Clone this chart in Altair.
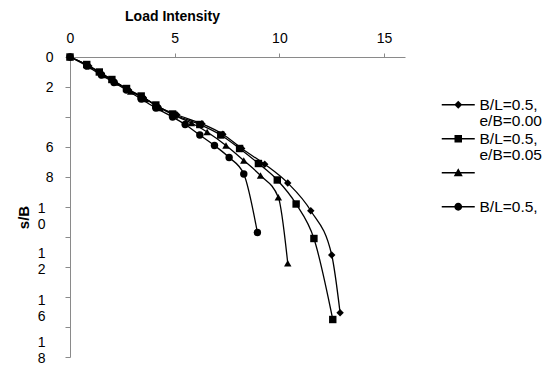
import altair as alt
import pandas as pd

# ---- data ----
series_names = ["B/L=0.5,|e/B=0.00", "B/L=0.5,|e/B=0.05", " | ", "B/L=0.5,| "]

s1_load = [0, 0.9, 1.5, 2.1, 2.8, 3.5, 4.2, 5.1, 6.3, 7.3, 8.2, 9.3, 10.4, 11.5, 12.5, 12.9]
s1_sb   = [0, 0.6, 1.1, 1.6, 2.2, 2.7, 3.3, 3.85, 4.45, 5.15, 6.1, 7.15, 8.4, 10.25, 13.2, 17.05]

s2_load = [0, 0.8, 1.4, 2.0, 2.7, 3.4, 4.1, 4.9, 6.2, 7.2, 8.1, 9.0, 9.9, 10.8, 11.65, 12.55]
s2_sb   = [0, 0.5, 1.0, 1.5, 2.1, 2.6, 3.2, 3.8, 4.5, 5.2, 6.1, 7.1, 8.2, 9.8, 12.1, 17.5]

s3_load = [0, 0.9, 1.6, 2.2, 2.9, 3.6, 4.3, 5.0, 5.8, 6.55, 7.45, 8.3, 9.1, 9.95, 10.4]
s3_sb   = [0, 0.6, 1.2, 1.7, 2.3, 2.8, 3.4, 3.9, 4.4, 5.0, 5.9, 6.9, 7.9, 9.35, 13.75]

s4_load = [0, 0.8, 1.5, 2.1, 2.7, 3.4, 4.1, 4.9, 5.5, 6.2, 6.9, 7.6, 8.3, 8.95]
s4_sb   = [0, 0.6, 1.2, 1.7, 2.2, 2.8, 3.4, 4.0, 4.5, 5.2, 5.9, 6.7, 7.8, 11.7]

x_ticks = [0, 5, 10, 15]
y_ticks = [0, 2, 4, 6, 8, 10, 12, 14, 16, 18, 20]
y_tick_labels = ["0", "2", "", "6", "8", "1|0", "", "1|2", "1|6", "", "1|8"]

rows = []
for name, xs, ys in zip(series_names,
                        [s1_load, s2_load, s3_load, s4_load],
                        [s1_sb, s2_sb, s3_sb, s4_sb]):
    for i, (xv, yv) in enumerate(zip(xs, ys)):
        rows.append({"series": name, "load": xv, "sb": yv, "order": i})
df = pd.DataFrame(rows)

FONT = "Liberation Sans"
AXIS_GRAY = "#8a8a8a"

y_label_expr = "split([" + ",".join("'" + s + "'" for s in y_tick_labels) + "][datum.value/2], '|')"

x_enc = alt.X("load:Q",
              scale=alt.Scale(domain=[0, 16], nice=False, zero=False),
              axis=alt.Axis(orient="top", values=x_ticks, grid=False,
                            tickSize=4, labelPadding=8, labelFlush=False,
                            labelOverlap=False,
                            domainColor=AXIS_GRAY, tickColor=AXIS_GRAY,
                            labelFont=FONT, labelFontSize=14, labelColor="black",
                            title="Load Intensity", titleFont=FONT,
                            titleFontSize=14, titleFontWeight="bold",
                            titleColor="black",
                            titleX=102, titleY=-41, titleAlign="center",
                            titleBaseline="middle"))

y_enc = alt.Y("sb:Q",
              scale=alt.Scale(domain=[0, 20], nice=False, zero=False, reverse=True),
              axis=alt.Axis(values=y_ticks, grid=False, tickSize=5,
                            labelExpr=y_label_expr, labelOverlap=False,
                            labelLineHeight=16,
                            labelOffset={"condition": [
                                {"test": "datum.value == 10", "value": 1},
                                {"test": "datum.value == 14", "value": -14},
                                {"test": "datum.value == 16", "value": 3},
                                {"test": "datum.value == 20", "value": -15}],
                                "value": 0},
                            labelPadding={"condition": {"test": "datum.value >= 10", "value": 20},
                                          "value": 12},
                            domainColor=AXIS_GRAY, tickColor=AXIS_GRAY,
                            labelFont=FONT, labelFontSize=14, labelColor="black",
                            title="s/B", titleFont=FONT, titleFontSize=15,
                            titleFontWeight="bold", titleColor="black",
                            titleX=-47, titleY=160, titleAlign="center",
                            titleBaseline="middle", titleAngle=270))

base = alt.Chart(df)

lines = base.mark_line(color="black", strokeWidth=1.3, interpolate="monotone").encode(
    x=x_enc, y=y_enc, detail="series:N", order="order:Q")

points = base.mark_point(filled=True, color="black", opacity=1, size=55).encode(
    x=x_enc, y=y_enc,
    shape=alt.Shape("series:N",
                    scale=alt.Scale(domain=series_names,
                                    range=["diamond", "square", "triangle-up", "circle"]),
                    legend=None))

# legend symbols (symbolSize 100 -> 1 path unit = 5 px): a short line with the marker on it
LINE = "M-3.3,-0.13H3.3V0.13H-3.3Z"
leg_shapes = [
    LINE + "M0,-0.8L0.8,0L0,0.8L-0.8,0Z",
    LINE + "M-0.75,-0.75H0.75V0.75H-0.75Z",
    LINE + "M0,-0.9L0.9,0.7H-0.9Z",
    LINE + "M-0.78,0A0.78,0.78,0,1,1,0.78,0A0.78,0.78,0,1,1,-0.78,0Z",
]

legend_layer = base.transform_filter("false").mark_point(
    filled=True, color="black", opacity=1, size=100).encode(
    x=x_enc, y=y_enc,
    shape=alt.Shape("series:N",
                    scale=alt.Scale(domain=series_names, range=leg_shapes),
                    legend=alt.Legend(orient="none", legendX=380.5, legendY=40,
                                      title=None, symbolSize=100,
                                      symbolFillColor="black",
                                      symbolStrokeWidth=0,
                                      labelFont=FONT, labelFontSize=15.5,
                                      labelColor="black",
                                      labelExpr="split(datum.label, '|')",
                                      labelOffset=13.5, rowPadding=1, padding=0,
                                      labelLimit=200)))

chart = alt.layer(lines, points, legend_layer).resolve_scale(
    shape="independent"
).properties(
    width=335, height=300,
    autosize=alt.AutoSizeParams(type="none"),
    padding={"left": 62, "top": 49, "right": 140, "bottom": 10},
).configure(
    background="white",
    view=alt.ViewConfig(stroke=None),
    style={"guide-label": {"lineHeight": 16}},
)

chart.save("out.html", embed_options={"renderer": "svg", "actions": False})
